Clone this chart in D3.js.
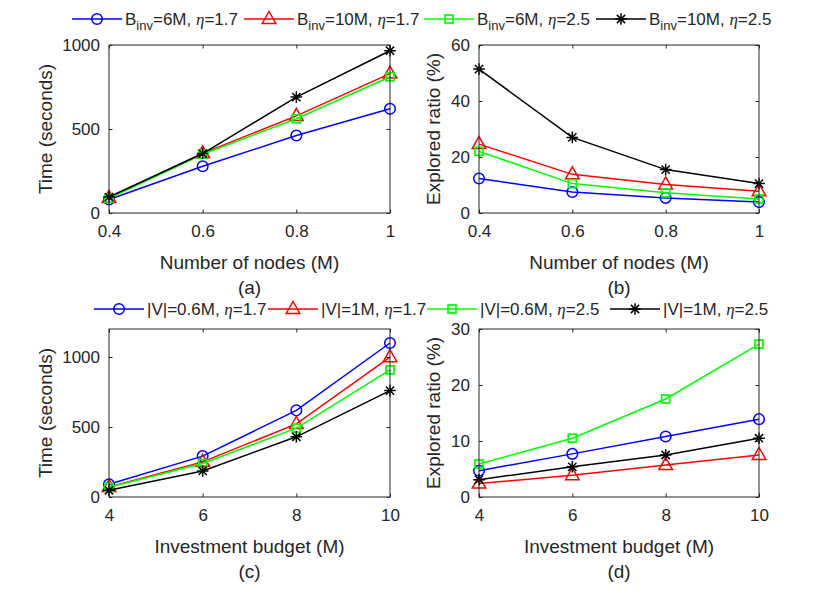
<!DOCTYPE html>
<html>
<head>
<meta charset="utf-8">
<script src="https://cdn.jsdelivr.net/npm/d3@7"></script>
<style>
  body { margin: 0; background: #fff; }
  text { font-family: "Liberation Sans", Arial, sans-serif; fill: #262626; }
</style>
</head>
<body>
<script>
// x values
var nodesX = [0.4, 0.6, 0.8, 1];
var budgetX = [4, 6, 8, 10];

// (a) time vs number of nodes
var timeNodesB6e17 = [80, 278, 461, 620];
var timeNodesB10e17 = [90, 355, 578, 830];
var timeNodesB6e25 = [88, 350, 561, 811];
var timeNodesB10e25 = [95, 354, 690, 966];

// (b) explored ratio vs number of nodes
var ratioNodesB6e17 = [12.3, 7.5, 5.4, 3.9];
var ratioNodesB10e17 = [24.6, 13.8, 10.2, 7.8];
var ratioNodesB6e25 = [22.0, 10.5, 7.2, 5.0];
var ratioNodesB10e25 = [51.4, 27.0, 15.5, 10.5];

// (c) time vs investment budget
var timeBudgetV06e17 = [91, 292, 619, 1100];
var timeBudgetV1e17 = [72, 251, 522, 999];
var timeBudgetV06e25 = [70, 239, 492, 908];
var timeBudgetV1e25 = [48, 186, 430, 760];

// (d) explored ratio vs investment budget
var ratioBudgetV06e17 = [4.7, 7.7, 10.8, 13.9];
var ratioBudgetV1e17 = [2.4, 3.9, 5.7, 7.5];
var ratioBudgetV06e25 = [5.9, 10.5, 17.5, 27.3];
var ratioBudgetV1e25 = [3.1, 5.4, 7.5, 10.5];

// ticks
var nodesTicks = [0.4, 0.6, 0.8, 1];
var budgetTicks = [4, 6, 8, 10];
var timeNodesTicks = [0, 500, 1000];
var ratioNodesTicks = [0, 20, 40, 60];
var timeBudgetTicks = [0, 500, 1000];
var ratioBudgetTicks = [0, 10, 20, 30];

var colors = ["#0000ff", "#ff0000", "#00ff00", "#000000"];
var markers = ["circle", "triangle", "square", "star"];

var width = 840, height = 600;
var svg = d3.select("body").append("svg")
    .attr("width", width)
    .attr("height", height);

//draw a marker of given type at the origin of group g
function drawMarker(g, type, color) {
    if (type === "circle") {
        g.append("circle").attr("r", 5.3)
            .style("fill", "none").style("stroke", color).style("stroke-width", 1.5);
    } else if (type === "triangle") {
        g.append("path").attr("d", "M 0 -7.5 L 6.8 4.5 L -6.8 4.5 Z")
            .style("fill", "none").style("stroke", color).style("stroke-width", 1.5);
    } else if (type === "square") {
        g.append("rect").attr("x", -4).attr("y", -4).attr("width", 8).attr("height", 8)
            .style("fill", "none").style("stroke", color).style("stroke-width", 1.7);
    } else {
        var r = 5.8, d = r * 0.707;
        g.append("path")
            .attr("d", "M " + (-r) + " 0 L " + r + " 0 M 0 " + (-r) + " L 0 " + r +
                " M " + (-d) + " " + (-d) + " L " + d + " " + d +
                " M " + (-d) + " " + d + " L " + d + " " + (-d))
            .style("fill", "none").style("stroke", color).style("stroke-width", 1.5);
    }
}

//draw one subplot
function drawPanel(opt) {
    var x = d3.scaleLinear().domain(opt.xDomain).range([opt.left, opt.right]);
    var y = d3.scaleLinear().domain(opt.yDomain).range([opt.bottom, opt.top]);
    var g = svg.append("g");

    //series
    opt.series.forEach(function (vals, i) {
        var line = d3.line()
            .x(function (d, j) { return x(opt.xs[j]); })
            .y(function (d) { return y(d); });
        g.append("path").datum(vals)
            .attr("d", line)
            .style("fill", "none")
            .style("stroke", colors[i])
            .style("stroke-width", 1.5);
        vals.forEach(function (v, j) {
            var m = g.append("g").attr("transform", "translate(" + x(opt.xs[j]) + "," + y(v) + ")");
            drawMarker(m, markers[i], colors[i]);
        });
    });

    //axes with ticks inward, box on all sides
    var tickLen = 3.5;
    g.append("g").attr("transform", "translate(0," + opt.bottom + ")")
        .call(d3.axisBottom(x).tickValues(opt.xTicks).tickSizeInner(-tickLen).tickSizeOuter(0)
            .tickPadding(12).tickFormat(d3.format("~g")));
    g.append("g").attr("transform", "translate(0," + opt.top + ")")
        .call(d3.axisTop(x).tickValues(opt.xTicks).tickSizeInner(-tickLen).tickSizeOuter(0).tickFormat(""));
    g.append("g").attr("transform", "translate(" + opt.left + ",0)")
        .call(d3.axisLeft(y).tickValues(opt.yTicks).tickSizeInner(-tickLen).tickSizeOuter(0)
            .tickPadding(9).tickFormat(d3.format("d")));
    g.append("g").attr("transform", "translate(" + opt.right + ",0)")
        .call(d3.axisRight(y).tickValues(opt.yTicks).tickSizeInner(-tickLen).tickSizeOuter(0).tickFormat(""));
    g.selectAll(".domain").remove();
    g.selectAll(".tick line").style("stroke", "#262626");
    g.selectAll(".tick text").style("font-size", "17px").style("fill", "#262626")
        .style("font-family", "'Liberation Sans', Arial, sans-serif");
    g.append("rect")
        .attr("x", opt.left).attr("y", opt.top)
        .attr("width", opt.right - opt.left).attr("height", opt.bottom - opt.top)
        .style("fill", "none").style("stroke", "#262626").style("stroke-width", 1);

    //labels
    var cx = (opt.left + opt.right) / 2;
    g.append("text").attr("x", cx).attr("y", opt.bottom + 56)
        .attr("text-anchor", "middle").style("font-size", "19px").text(opt.xLabel);
    g.append("text").attr("x", cx).attr("y", opt.bottom + 81)
        .attr("text-anchor", "middle").style("font-size", "19px").text(opt.tag);
    g.append("text")
        .attr("transform", "translate(" + opt.yLabelX + "," + ((opt.top + opt.bottom) / 2) + ") rotate(-90)")
        .attr("text-anchor", "middle").style("font-size", "19px").text(opt.yLabel);
}

//legend row
function drawLegend(yPos, entries) {
    entries.forEach(function (e, i) {
        var g = svg.append("g").attr("transform", "translate(" + e.x + "," + yPos + ")");
        g.append("line").attr("x1", 0).attr("x2", 50).attr("y1", 0).attr("y2", 0)
            .style("stroke", colors[i]).style("stroke-width", 1.5);
        var m = g.append("g").attr("transform", "translate(25,0)");
        drawMarker(m, markers[i], colors[i]);
        var t = g.append("text").attr("x", 53).attr("y", 6).style("font-size", "17px");
        t.append("tspan").text(e.pre);
        if (e.sub) {
            t.append("tspan").attr("dy", 5).style("font-size", "13px").text(e.sub);
            t.append("tspan").attr("dy", -5).text(e.mid);
        }
        t.append("tspan").style("font-style", "italic")
            .style("font-family", "'Liberation Serif', 'Times New Roman', serif").text("\u03b7");
        t.append("tspan").text(e.post);
    });
}

drawPanel({
    left: 109, right: 390, top: 45, bottom: 213,
    xs: nodesX, xDomain: [0.4, 1], yDomain: [0, 1000],
    xTicks: nodesTicks, yTicks: timeNodesTicks,
    series: [timeNodesB6e17, timeNodesB10e17, timeNodesB6e25, timeNodesB10e25],
    xLabel: "Number of nodes (M)", yLabel: "Time (seconds)", tag: "(a)", yLabelX: 52
});
drawPanel({
    left: 479, right: 759, top: 45, bottom: 213,
    xs: nodesX, xDomain: [0.4, 1], yDomain: [0, 60],
    xTicks: nodesTicks, yTicks: ratioNodesTicks,
    series: [ratioNodesB6e17, ratioNodesB10e17, ratioNodesB6e25, ratioNodesB10e25],
    xLabel: "Number of nodes (M)", yLabel: "Explored ratio (%)", tag: "(b)", yLabelX: 440
});
drawPanel({
    left: 109, right: 390, top: 329, bottom: 497,
    xs: budgetX, xDomain: [4, 10], yDomain: [0, 1200],
    xTicks: budgetTicks, yTicks: timeBudgetTicks,
    series: [timeBudgetV06e17, timeBudgetV1e17, timeBudgetV06e25, timeBudgetV1e25],
    xLabel: "Investment budget (M)", yLabel: "Time (seconds)", tag: "(c)", yLabelX: 52
});
drawPanel({
    left: 479, right: 759, top: 329, bottom: 497,
    xs: budgetX, xDomain: [4, 10], yDomain: [0, 30],
    xTicks: budgetTicks, yTicks: ratioBudgetTicks,
    series: [ratioBudgetV06e17, ratioBudgetV1e17, ratioBudgetV06e25, ratioBudgetV1e25],
    xLabel: "Investment budget (M)", yLabel: "Explored ratio (%)", tag: "(d)", yLabelX: 440
});

drawLegend(19, [
    { x: 72, pre: "B", sub: "inv", mid: "=6M, ", post: "=1.7" },
    { x: 244, pre: "B", sub: "inv", mid: "=10M, ", post: "=1.7" },
    { x: 424, pre: "B", sub: "inv", mid: "=6M, ", post: "=2.5" },
    { x: 596, pre: "B", sub: "inv", mid: "=10M, ", post: "=2.5" }
]);
drawLegend(309, [
    { x: 94, pre: "|V|=0.6M, ", post: "=1.7" },
    { x: 268, pre: "|V|=1M, ", post: "=1.7" },
    { x: 427, pre: "|V|=0.6M, ", post: "=2.5" },
    { x: 610, pre: "|V|=1M, ", post: "=2.5" }
]);
</script>
</body>
</html>
